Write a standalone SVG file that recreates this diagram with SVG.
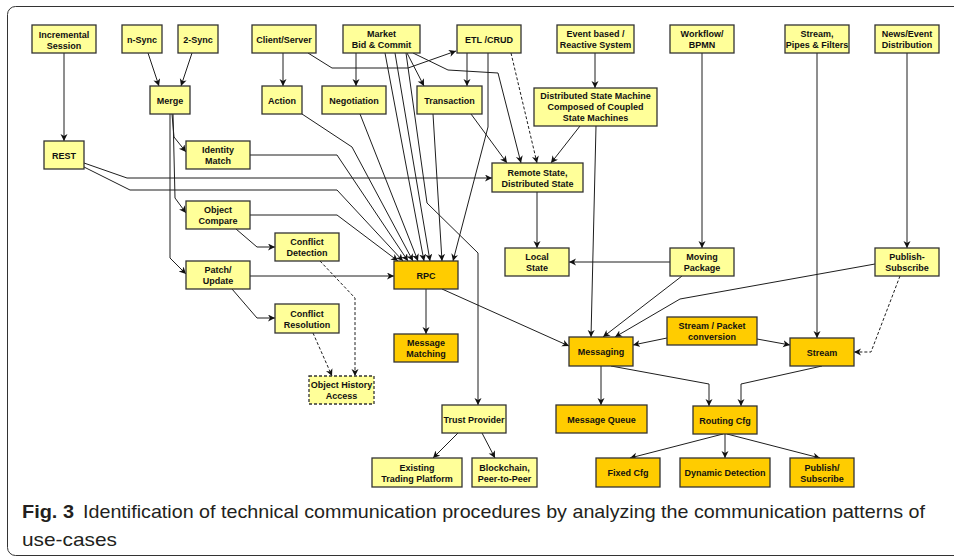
<svg xmlns="http://www.w3.org/2000/svg" width="954" height="559" viewBox="0 0 954 559">
<style>
.n rect{stroke:#333;stroke-width:1.3}
.y rect{fill:#FFFF99}
.o rect{fill:#FFCC00}
.n text{font-family:"Liberation Sans",Arial,sans-serif;font-weight:bold;font-size:9px;fill:#111;text-anchor:middle}
#connectors path{fill:none;stroke:#1e1e1e;stroke-width:1;marker-end:url(#arr)}
#connectors path.d{stroke-dasharray:3,2}
.cap{font-family:"Liberation Sans Narrow","Liberation Sans",Arial,sans-serif;font-size:19px;fill:#231f20}
</style>
<defs>
<marker id="arr" markerWidth="9" markerHeight="8" refX="7" refY="3.5" orient="auto" markerUnits="userSpaceOnUse">
<path d="M0,0 L7,3.5 L0,7 L2,3.5 z" fill="#111"/>
</marker>
</defs>
<rect x="0" y="0" width="954" height="559" fill="#fff"/>
<rect x="7.5" y="6.5" width="970" height="549" rx="8" fill="none" stroke="#333" stroke-width="1"/>

<g id="connectors">
<path d="M64,53 V141"/>
<path d="M148,53 L159,86"/>
<path d="M192,53 L181,86"/>
<path d="M283,53 V86"/>
<path d="M308,53 L332,68 L408,68 L456,51"/>
<path d="M356,53 V86"/>
<path d="M407,53 L424,86"/>
<path d="M413,53 L448,70 L498,73 L521,163"/>
<path d="M467,53 V86"/>
<path class="d" d="M511,53 L537,163"/>
<path d="M595,53 V88"/>
<path d="M580,126 L551,163"/>
<path d="M471,114 L507,163"/>
<path d="M84,163 L127,178 L492,178"/>
<path d="M84,167 L130,190 L337,190 L403,261"/>
<path d="M250,155 L337,155 L408,261"/>
<path d="M250,215 L337,215 L398,261"/>
<path d="M302,114 L352,147 L413,261"/>
<path d="M360,114 L418,261"/>
<path d="M385,53 L424,261"/>
<path d="M395,53 L430,261"/>
<path d="M406,53 L427,203 L478,253 L478,405"/>
<path d="M433,114 L442,261"/>
<path d="M488,53 L488,127 L453,261"/>
<path d="M172,114 L174,137 L186,152"/>
<path d="M173,114 L175,198 L186,213"/>
<path d="M170,114 L170,258 L186,274"/>
<path d="M236,229 L257,247 L275,247"/>
<path d="M232,289 L257,318 L275,318"/>
<path d="M250,276 L394,276"/>
<path class="d" d="M320,261 L355,298 L355,376"/>
<path class="d" d="M313,333 L332,376"/>
<path d="M426,289 V334"/>
<path d="M442,289 L569,346"/>
<path d="M537,192 V248"/>
<path d="M670,262 L569,262"/>
<path d="M596,126 L591,337"/>
<path d="M682,276 L603,337"/>
<path d="M875,264 L680,299 L615,337"/>
<path d="M667,338 L633,345"/>
<path d="M757,339 L790,345"/>
<path d="M702,53 V248"/>
<path d="M817,53 V338"/>
<path d="M907,53 V248"/>
<path class="d" d="M900,276 L871,352 L854,352"/>
<path d="M601,366 V405"/>
<path d="M611,366 L709,384 L709,406"/>
<path d="M822,366 L741,384 L741,406"/>
<path d="M723,434 L630,458"/>
<path d="M725,434 V458"/>
<path d="M727,434 L820,458"/>
<path d="M458,433 L433,458"/>
<path d="M482,433 L495,458"/>
</g>

<g id="incremental-session" class="n y"><rect x="32" y="25" width="64" height="28"/><text x="64" y="38">Incremental</text><text x="64" y="49">Session</text></g>
<g id="n-sync" class="n y"><rect x="122" y="25" width="40" height="28"/><text x="142" y="42.5">n-Sync</text></g>
<g id="two-sync" class="n y"><rect x="178" y="25" width="40" height="28"/><text x="198" y="42.5">2-Sync</text></g>
<g id="client-server" class="n y"><rect x="252" y="25" width="64" height="28"/><text x="284" y="42.5">Client/Server</text></g>
<g id="market" class="n y"><rect x="343" y="25" width="77" height="28"/><text x="381.5" y="37">Market</text><text x="381.5" y="48">Bid &amp; Commit</text></g>
<g id="etl-crud" class="n y"><rect x="457" y="25" width="64" height="28"/><text x="489" y="42.5">ETL /CRUD</text></g>
<g id="event-based" class="n y"><rect x="557" y="25" width="77" height="28"/><text x="595.5" y="37">Event based /</text><text x="595.5" y="48">Reactive System</text></g>
<g id="workflow" class="n y"><rect x="670" y="25" width="64" height="28"/><text x="702" y="37">Workflow/</text><text x="702" y="48">BPMN</text></g>
<g id="stream-pipes" class="n y"><rect x="785" y="25" width="64" height="28"/><text x="817" y="37">Stream,</text><text x="817" y="48">Pipes &amp; Filters</text></g>
<g id="news-event" class="n y"><rect x="875" y="25" width="64" height="28"/><text x="907" y="37">News/Event</text><text x="907" y="48">Distribution</text></g>
<g id="merge" class="n y"><rect x="150" y="86" width="40" height="28"/><text x="170" y="103.5">Merge</text></g>
<g id="action" class="n y"><rect x="262" y="86" width="40" height="28"/><text x="282" y="103.5">Action</text></g>
<g id="negotiation" class="n y"><rect x="322" y="86" width="64" height="28"/><text x="354" y="103.5">Negotiation</text></g>
<g id="transaction" class="n y"><rect x="417" y="86" width="65" height="28"/><text x="449.5" y="103.5">Transaction</text></g>
<g id="dsm" class="n y"><rect x="534" y="88" width="123" height="38"/><text x="595.5" y="99">Distributed State Machine</text><text x="595.5" y="110">Composed of Coupled</text><text x="595.5" y="121">State Machines</text></g>
<g id="rest" class="n y"><rect x="44" y="141" width="40" height="28"/><text x="64" y="158.5">REST</text></g>
<g id="identity-match" class="n y"><rect x="186" y="141" width="64" height="28"/><text x="218" y="153">Identity</text><text x="218" y="164">Match</text></g>
<g id="remote-state" class="n y"><rect x="492" y="163" width="91" height="29"/><text x="537.5" y="176">Remote State,</text><text x="537.5" y="187">Distributed State</text></g>
<g id="object-compare" class="n y"><rect x="186" y="201" width="64" height="28"/><text x="218" y="213">Object</text><text x="218" y="224">Compare</text></g>
<g id="conflict-detection" class="n y"><rect x="275" y="233" width="64" height="28"/><text x="307" y="245">Conflict</text><text x="307" y="256">Detection</text></g>
<g id="local-state" class="n y"><rect x="505" y="248" width="64" height="28"/><text x="537" y="260">Local</text><text x="537" y="271">State</text></g>
<g id="moving-package" class="n y"><rect x="670" y="248" width="64" height="28"/><text x="702" y="260">Moving</text><text x="702" y="271">Package</text></g>
<g id="publish-subscribe-1" class="n y"><rect x="875" y="248" width="64" height="28"/><text x="907" y="260">Publish-</text><text x="907" y="271">Subscribe</text></g>
<g id="patch-update" class="n y"><rect x="186" y="261" width="64" height="28"/><text x="218" y="273">Patch/</text><text x="218" y="284">Update</text></g>
<g id="conflict-resolution" class="n y"><rect x="275" y="304" width="64" height="29"/><text x="307" y="316.5">Conflict</text><text x="307" y="327.5">Resolution</text></g>
<g id="object-history" class="n y"><rect x="309" y="376" width="65" height="28" stroke-dasharray="3,2"/><text x="341.5" y="388">Object History</text><text x="341.5" y="399">Access</text></g>
<g id="trust-provider" class="n y"><rect x="442" y="405" width="64" height="28"/><text x="474" y="422.5">Trust Provider</text></g>
<g id="existing-trading" class="n y"><rect x="372" y="458" width="90" height="29"/><text x="417" y="470.5">Existing</text><text x="417" y="481.5">Trading Platform</text></g>
<g id="blockchain" class="n y"><rect x="472" y="458" width="65" height="29"/><text x="504.5" y="470.5">Blockchain,</text><text x="504.5" y="481.5">Peer-to-Peer</text></g>

<g id="rpc" class="n o"><rect x="394" y="261" width="64" height="28"/><text x="426" y="278.5">RPC</text></g>
<g id="message-matching" class="n o"><rect x="394" y="334" width="64" height="28"/><text x="426" y="346">Message</text><text x="426" y="357">Matching</text></g>
<g id="messaging" class="n o"><rect x="569" y="337" width="64" height="29"/><text x="601" y="355">Messaging</text></g>
<g id="stream-packet" class="n o"><rect x="667" y="317" width="90" height="28"/><text x="712" y="329">Stream / Packet</text><text x="712" y="340">conversion</text></g>
<g id="stream" class="n o"><rect x="790" y="338" width="64" height="28"/><text x="822" y="355.5">Stream</text></g>
<g id="message-queue" class="n o"><rect x="556" y="405" width="91" height="28"/><text x="601.5" y="422.5">Message Queue</text></g>
<g id="routing-cfg" class="n o"><rect x="693" y="406" width="64" height="28"/><text x="725" y="423.5">Routing Cfg</text></g>
<g id="fixed-cfg" class="n o"><rect x="596" y="458" width="64" height="29"/><text x="628" y="476">Fixed Cfg</text></g>
<g id="dynamic-detection" class="n o"><rect x="680" y="458" width="90" height="29"/><text x="725" y="476">Dynamic Detection</text></g>
<g id="publish-subscribe-2" class="n o"><rect x="790" y="458" width="64" height="29"/><text x="822" y="470.5">Publish/</text><text x="822" y="481.5">Subscribe</text></g>

<g id="caption">
<text class="cap" x="22" y="518" font-weight="bold" textLength="52" lengthAdjust="spacingAndGlyphs">Fig. 3</text>
<text class="cap" x="83" y="518" textLength="842" lengthAdjust="spacingAndGlyphs">Identification of technical communication procedures by analyzing the communication patterns of</text>
<text class="cap" x="22" y="546" textLength="95" lengthAdjust="spacingAndGlyphs">use-cases</text>
</g>
</svg>
